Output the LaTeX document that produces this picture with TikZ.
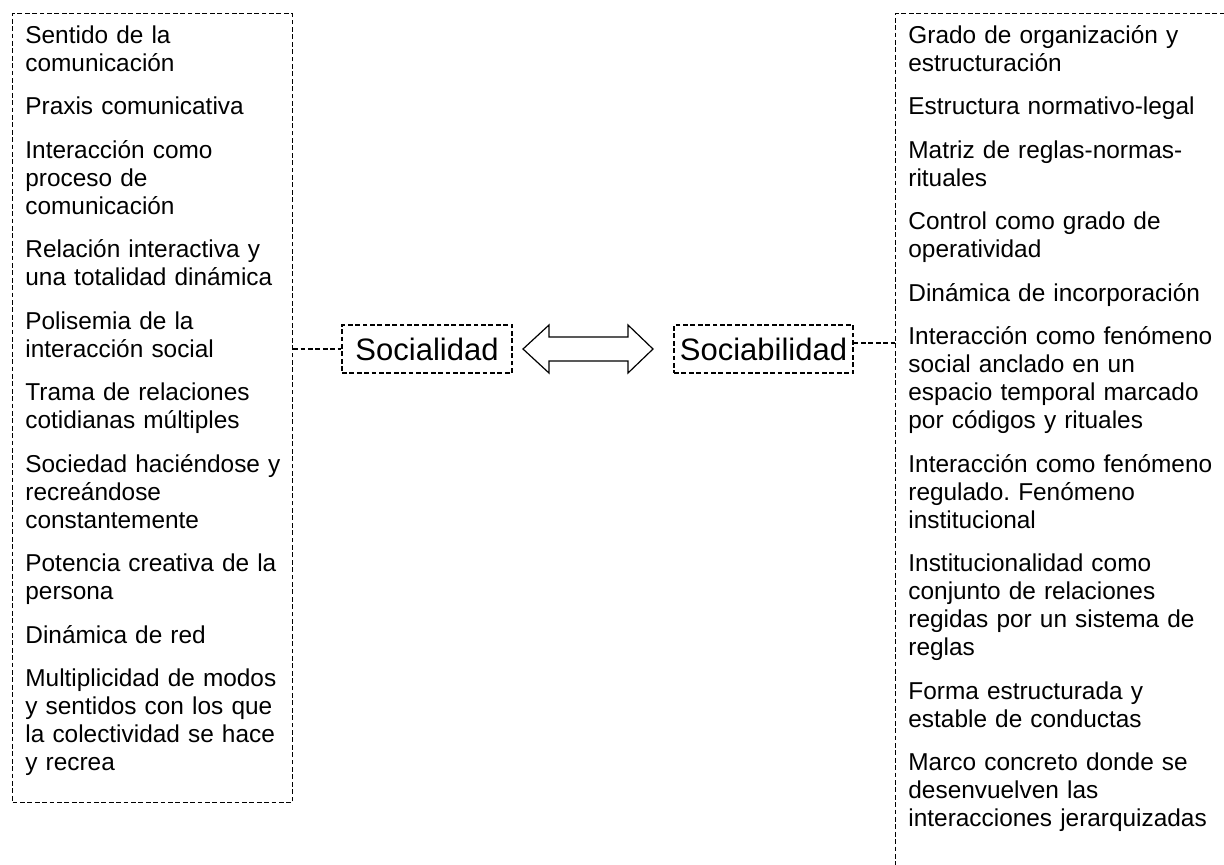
\documentclass[tikz,border=0pt]{standalone}
\usepackage{fontspec}
\setmainfont{Liberation Sans}
\usepackage{tikz}
\usetikzlibrary{calc}
\usetikzlibrary{positioning}
\frenchspacing

\tikzset{
	dashbox/.style={draw, dash pattern=on 2.4pt off 1.3pt, line width=0.6pt},
	conn/.style={dash pattern=on 2.4pt off 1.3pt, line width=0.6pt},
	item/.style={anchor=base west, inner sep=0pt, text width=170pt, align=left, font=\fontsize{12.2}{14}\selectfont},
	concept/.style={dashbox, inner sep=0pt, minimum height=24pt, font=\fontsize{15.5}{18}\selectfont}
}

\begin{document}
\begin{tikzpicture}[x=0.5pt, y=-0.5pt]
			\useasboundingbox (0,0) rectangle (1224,864);
			\clip (0,0) rectangle (1224,864);

			\node[dashbox, inner sep=0pt, minimum width=140pt, minimum height=394.5pt, anchor=north west] (lbox) at (12,13) {};
			\node[dashbox, inner sep=0pt, minimum width=200pt, minimum height=460pt, anchor=north west] (rbox) at (895,13) {}; %cut by the page

			\node[concept, minimum width=85pt] (soc) at (427,349) {Socialidad};
			\node[concept, minimum width=89.5pt] (sociab) at (763.5,349) {Sociabilidad};

			\draw[line width=0.6pt] (523,349) -- (549,325) -- (549,337) -- (628,337) -- (628,325) -- (653,349) -- (628,373) -- (628,361) -- (549,361) -- (549,373) -- cycle;

			\draw[conn] (soc.west -| lbox.east) -- (soc.west);
			\coordinate (sb) at ([yshift=3pt]sociab.east);
			\draw[conn] (sb) -- (sb -| rbox.west);

			\node[item] (l1) at (25,43) {Sentido de la\\comunicación};
			\node[item] (l2) at (25,114.5) {Praxis comunicativa};
			\node[item] (l3) at (25,158) {Interacción como\\proceso de\\comunicación};
			\node[item] (l4) at (25,257.5) {Relación interactiva y\\una totalidad dinámica};
			\node[item] (l5) at (25,329) {Polisemia de la\\interacción social};
			\node[item] (l6) at (25,400.5) {Trama de relaciones\\cotidianas múltiples};
			\node[item] (l7) at (25,472) {Sociedad haciéndose y\\recreándose\\constantemente};
			\node[item] (l8) at (25,571.5) {Potencia creativa de la\\persona};
			\node[item] (l9) at (25,643) {Dinámica de red};
			\node[item] (l10) at (25,686.5) {Multiplicidad de modos\\y sentidos con los que\\la colectividad se hace\\y recrea};

			\node[item] (r1) at (908,43) {Grado de organización y\\estructuración};
			\node[item] (r2) at (908,114.5) {Estructura normativo-legal};
			\node[item] (r3) at (908,158) {Matriz de reglas-normas-\\rituales};
			\node[item] (r4) at (908,229.5) {Control como grado de\\operatividad};
			\node[item] (r5) at (908,301) {Dinámica de incorporación};
			\node[item] (r6) at (908,344.5) {Interacción como fenómeno\\social anclado en un\\espacio temporal marcado\\por códigos y rituales};
			\node[item] (r7) at (908,472) {Interacción como fenómeno\\regulado. Fenómeno\\institucional};
			\node[item] (r8) at (908,571.5) {Institucionalidad como\\conjunto de relaciones\\regidas por un sistema de\\reglas};
			\node[item] (r9) at (908,699) {Forma estructurada y\\estable de conductas};
			\node[item] (r10) at (908,770.5) {Marco concreto donde se\\desenvuelven las\\interacciones jerarquizadas};
\end{tikzpicture}
\end{document}
